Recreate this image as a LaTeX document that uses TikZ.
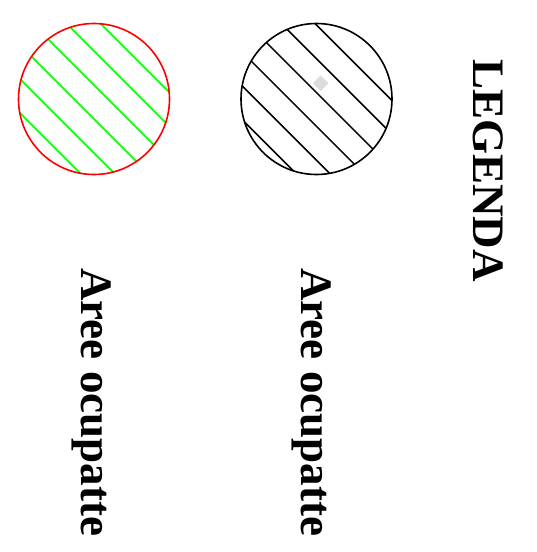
\documentclass[tikz,border=0pt]{standalone}
\usepackage{fontspec}
\setmainfont{Liberation Serif}
\usetikzlibrary{positioning}
\definecolor{Edge}{HTML}{000000}
\definecolor{Alarm}{HTML}{FF0000}
\definecolor{Hatch}{HTML}{00FF00}
\definecolor{Spot}{HTML}{DCDCDC}
\tikzset{ring/.style={line width=1.6pt},hatchline/.style={line width=1.5pt},legtext/.style={font=\bfseries\fontsize{45}{50}\selectfont,rotate=-90,anchor=base west,inner sep=0pt}}

\begin{document}
\begin{tikzpicture}[x=1pt,y=-1pt]
\useasboundingbox (0,0) rectangle (536,552);
% occupied area, red/green
\begin{scope}
\clip (94,99) circle (75.5);
\foreach \c in {-82,-48,-14,20,54,88}{\draw[hatchline,Hatch] (94-120,99+\c-120)--(94+120,99+\c+120);}
\end{scope}
\draw[ring,Alarm] (94,99) circle (75.5);
% occupied area, black
\begin{scope}
\clip (316.5,99) circle (75.5);
\foreach \c in {-74,-40.2,-6.4,27.4,61.2,95}{\draw[hatchline,Edge] (316.5-120,99+\c-120)--(316.5+120,99+\c+120);}
\end{scope}
\draw[ring,Edge] (316.5,99) circle (75.5);
\node[fill=Spot,rotate=45,minimum size=11pt,inner sep=0pt] (spot) at (320.7,83.3) {};
% labels
\node[legtext] (title) at (473,59) {LEGENDA};
\node[legtext] (lab1) at (81.7,268) {Aree ocupatte};
\node[legtext] (lab2) at (301.7,268) {Aree ocupatte};
\end{tikzpicture}
\end{document}
